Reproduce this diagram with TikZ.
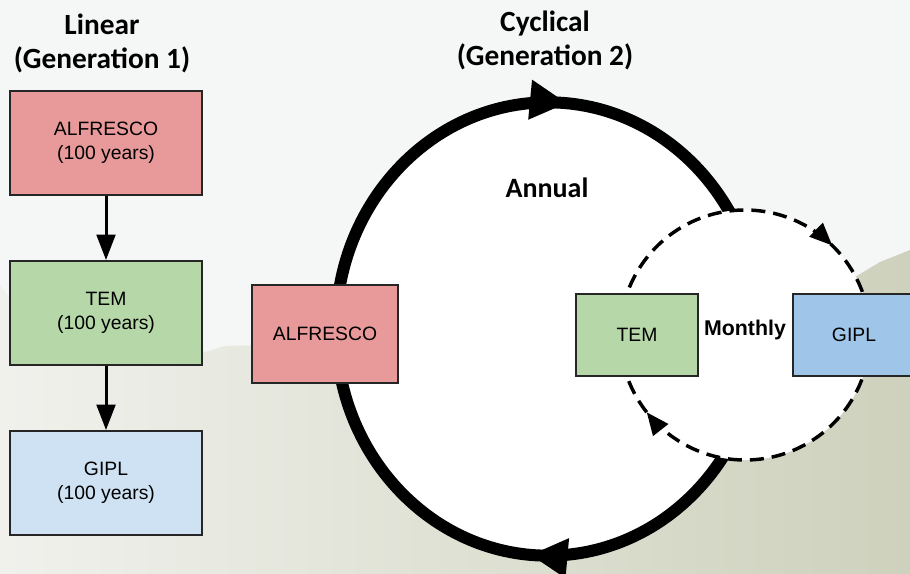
\documentclass[tikz,border=0pt]{standalone}
\usepackage{fontspec}
\setmainfont{Liberation Sans}
\newfontfamily\titlefont{Carlito}
\usetikzlibrary{positioning, arrows.meta, decorations.markings}

\definecolor{skyback}{HTML}{F5F7F6}
\definecolor{hillleft}{HTML}{F0F1EC}
\definecolor{hillmid}{HTML}{E7E8DF}
\definecolor{hillright}{HTML}{CED1BC}
\definecolor{alfred}{HTML}{E89A9A}
\definecolor{temgreen}{HTML}{B6D7A8}
\definecolor{giplpale}{HTML}{CFE2F3}
\definecolor{giplblue}{HTML}{9FC5E8}

\tikzset{
  model/.style={draw=black!85, line width=1.5pt, minimum width=144pt, minimum height=78pt,
    align=center, font=\fontsize{14.5}{18}\selectfont, inner sep=0pt},
  heading/.style={align=center, font=\titlefont\bfseries\fontsize{22}{25.5}\selectfont},
  flow/.style={-{Triangle[length=19pt, width=14pt]}, line width=2.25pt},
}

\begin{document}
\begin{tikzpicture}[x=0.75pt, y=-0.75pt, node distance=48pt]
  \useasboundingbox (0,0) rectangle (910,574);
  \clip (0,0) rectangle (910,574);
  % background
  \fill[skyback] (0,0) rectangle (910,574);
  \shade[left color=hillleft, middle color=hillmid, right color=hillright]
    (0,285) -- (12,302) -- (205,352) -- (225,346) -- (262,345) -- (340,356)
    -- (600,352) -- (780,330) -- (850,280) -- (880,262) -- (910,250)
    -- (910,574) -- (0,574) -- cycle;

  % linear chain
  \node[heading] (linearTitle) at (102,43) {Linear\\(Generation 1)};
  \node[model, fill=alfred] (alfrescoA) at (106,143) {ALFRESCO\\(100 years)};
  \node[model, fill=temgreen, below = of alfrescoA] (temA) {TEM\\(100 years)};
  \node[model, fill=giplpale, below = of temA] (giplA) {GIPL\\(100 years)};
  \draw[flow] (alfrescoA) -- (temA);
  \draw[flow] (temA) -- (giplA);

  % cyclical coupling
  \node[heading] (cyclicTitle) at (545,40) {Cyclical\\(Generation 2)};
  \coordinate (annualCenter) at (548,329);
  \coordinate (monthlyCenter) at (745,335);
  \draw[fill=white, line width=9pt, postaction={decorate},
    decoration={markings,
      mark=at position 0.236 with {\arrowreversed{Triangle[length=28pt, width=28pt]}},
      mark=at position 0.737 with {\arrowreversed{Triangle[length=28pt, width=28pt]}}}]
    (annualCenter) ellipse [x radius=159pt, y radius=170pt];
  \draw[fill=white, line width=2.6pt, dash pattern=on 10.5pt off 6pt, postaction={decorate},
    decoration={markings,
      mark=at position 0.127 with {\arrowreversed{Triangle[length=17pt, width=14pt]}},
      mark=at position 0.606 with {\arrowreversed{Triangle[length=17pt, width=14pt]}}}]
    (monthlyCenter) circle [radius=93.75pt];
  \node[heading, font=\titlefont\bfseries\fontsize{21}{24}\selectfont] (annual) at (547,188) {Annual};
  \node[model, fill=alfred, minimum width=109.5pt, minimum height=73.5pt] (alfrescoB) at (325,334) {ALFRESCO};
  \node[model, fill=temgreen, minimum width=91.5pt, minimum height=61.5pt] (temB) at (637,335) {TEM};
  \node[model, fill=giplblue, minimum width=91.5pt, minimum height=61.5pt] (giplB) at (854,335) {GIPL};
  \node[font=\bfseries\fontsize{16}{18}\selectfont] (monthly) at (745,330) {Monthly};
\end{tikzpicture}
\end{document}
